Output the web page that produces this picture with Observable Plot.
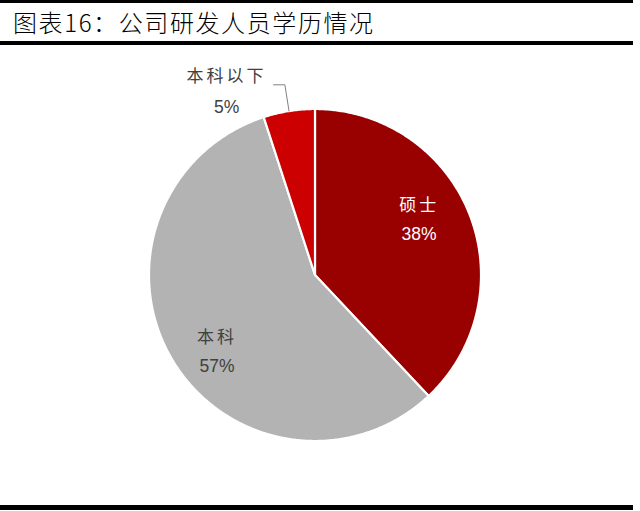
<!DOCTYPE html>
<html>
<head>
<meta charset="utf-8">
<script src="https://cdn.jsdelivr.net/npm/d3@7"></script>
<script src="https://cdn.jsdelivr.net/npm/@observablehq/plot@0.6"></script>
<style>
  html, body { margin: 0; padding: 0; background: #fff; }
  #wrap { position: relative; width: 640px; height: 511px; overflow: hidden; }
  #topline { position: absolute; left: 0; top: 0; width: 633px; height: 3px; background: #000; }
  #title { position: absolute; left: 13px; top: 6px; font-family: "Noto Sans CJK SC", sans-serif; font-weight: 300; font-size: 24px; letter-spacing: 1.6px; color: #000; line-height: 32px; white-space: nowrap; }
  #titleline { position: absolute; left: 0; top: 41px; width: 633px; height: 4px; background: #000; }
  #chart { position: absolute; left: 0; top: 45px; }
  #bottomline { position: absolute; left: 0; top: 505px; width: 633px; height: 5px; background: #000; }
</style>
</head>
<body>
<div id="wrap">
  <div id="topline"></div>
  <div id="title">图表16：公司研发人员学历情况</div>
  <div id="titleline"></div>
  <div id="chart"></div>
  <div id="bottomline"></div>
</div>
<script>
// Data
const categories = ["硕士", "本科", "本科以下"];
const values = [38, 57, 5];
const percentLabels = ["38%", "57%", "5%"];
const sliceColors = ["#990000", "#B3B3B3", "#CC0000"];
const labelColors = ["#FFFFFF", "#404040", "#404040"];

// Geometry built from data via d3.pie
const arcs = d3.pie().sort(null).value(d => d)(values);
const slicePoints = [];
arcs.forEach((a, i) => {
  const cat = categories[i];
  slicePoints.push({cat, color: sliceColors[i], x: 0, y: 0});
  const n = Math.max(2, Math.ceil((a.endAngle - a.startAngle) / (Math.PI / 360)));
  for (let k = 0; k <= n; k++) {
    const t = a.startAngle + (a.endAngle - a.startAngle) * k / n;
    slicePoints.push({cat, color: sliceColors[i], x: Math.sin(t), y: Math.cos(t)});
  }
  slicePoints.push({cat, color: sliceColors[i], x: 0, y: 0});
});

const mid = a => (a.startAngle + a.endAngle) / 2;
const inside = [0, 1].map(i => {
  const m = mid(arcs[i]);
  return {text: categories[i] + "\n" + percentLabels[i], x: 0.72 * Math.sin(m), y: 0.72 * Math.cos(m), color: labelColors[i], i};
});
const mSmall = mid(arcs[2]);
const p0 = {x: Math.sin(mSmall), y: Math.cos(mSmall)};
const p1 = {x: 1.16 * Math.sin(mSmall), y: 1.16 * Math.cos(mSmall)};
const p2 = {x: p1.x - 0.068, y: p1.y};
const leader = [p0, p1, p2];

const cx = 314.5, cy = 229.5, r = 166;
const font = "'Liberation Sans', 'Noto Sans CJK SC', sans-serif";

const chart = Plot.plot({
  width: 640,
  height: 458,
  margin: 0,
  x: {domain: [-1, 1], range: [cx - r, cx + r], axis: null},
  y: {domain: [-1, 1], range: [cy + r, cy - r], axis: null},
  color: {type: "identity"},
  marks: [
    Plot.line(slicePoints, {x: "x", y: "y", z: "cat", fill: "color", stroke: "#FFFFFF", strokeWidth: 2.2, strokeLinejoin: "round", curve: "linear"}),
    Plot.line(leader, {x: "x", y: "y", stroke: "#808080", strokeWidth: 1}),
    Plot.text(inside.filter(d => d.i === 0), {x: "x", y: "y", text: "text", fill: "color", fontSize: 17, lineHeight: 1.65, lineAnchor: "middle", textAnchor: "middle", dx: -7, dy: -15, fontFamily: font}),
    Plot.text(inside.filter(d => d.i === 1), {x: "x", y: "y", text: "text", fill: "color", fontSize: 17, lineHeight: 1.7, lineAnchor: "middle", textAnchor: "middle", dx: 5, dy: 12, fontFamily: font}),
    Plot.text([{x: p2.x, y: p2.y, text: categories[2] + "\n" + percentLabels[2]}], {x: "x", y: "y", text: "text", fill: labelColors[2], fontSize: 17, lineHeight: 1.75, lineAnchor: "middle", textAnchor: "middle", dx: -47, dy: 3, fontFamily: font})
  ]
});
// CJK line gets wider spacing, the percentage line is slightly smaller
chart.querySelectorAll("text").forEach(t => {
  const spans = t.querySelectorAll("tspan");
  if (spans.length === 2) {
    spans[0].setAttribute("letter-spacing", "3px");
    spans[1].setAttribute("font-size", "17.5");
  }
});
document.getElementById("chart").appendChild(chart);
</script>
</body>
</html>
